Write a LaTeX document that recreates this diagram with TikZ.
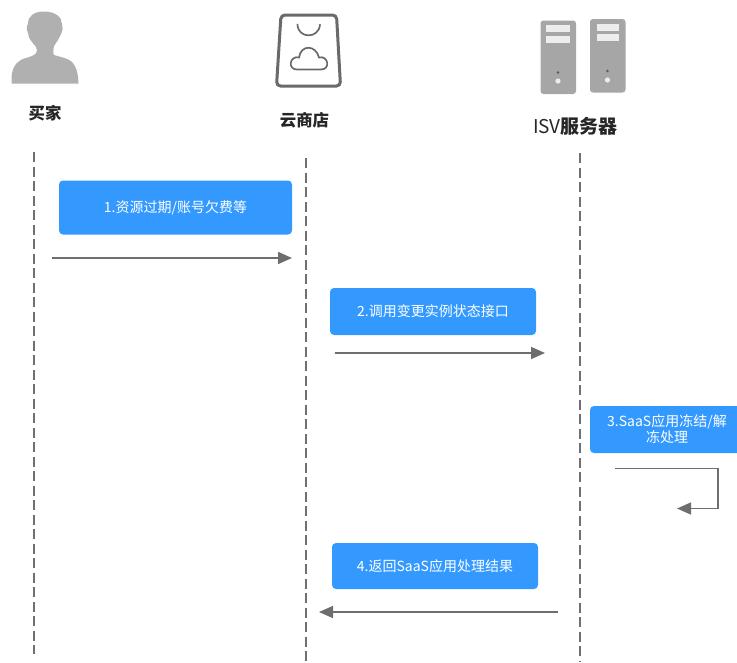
\documentclass[tikz,border=0pt]{standalone}
\usepackage{fontspec}
\setmainfont{Noto Sans CJK SC}
\definecolor{boxblue}{HTML}{3399FF}
\definecolor{arrowgrey}{HTML}{6E6E6E}
\definecolor{lifegrey}{HTML}{707070}
\definecolor{persongrey}{HTML}{B0B0B0}
\definecolor{servergrey}{HTML}{A6A6A6}
\definecolor{serverlight}{HTML}{EDEDED}
\definecolor{bagline}{HTML}{6A6A6A}
\definecolor{titlecol}{HTML}{262626}
\usetikzlibrary{arrows.meta}
\tikzset{
  stepbox/.style={fill=boxblue,rounded corners=4pt,text=white,align=center,inner sep=0pt,font=\fontsize{14}{15.5}\selectfont},
  lifeline/.style={draw=lifegrey,line width=1.1pt,dash pattern=on 10pt off 4.5pt},
  msg/.style={draw=arrowgrey,line width=1.5pt,-{Triangle[length=14pt,width=12pt]}},
  title/.style={text=titlecol,inner sep=0pt,font=\fontsize{16.4}{18}\selectfont\bfseries},
}
\begin{document}
\begin{tikzpicture}[x=1pt,y=-1pt]
\useasboundingbox (0,0) rectangle (737,662);
% person
\fill[persongrey] (11.5,83.5) -- (11.5,76) .. controls (13,65) and (18,60) .. (26,58) .. controls (32,56) and (37,55) .. (37,50)
 .. controls (37,47) and (35,46) .. (32,42) .. controls (29,38) and (28,36) .. (28,33) .. controls (26,29) and (27,25) .. (28,24)
 .. controls (28,16) and (34,11.5) .. (44,11.5) .. controls (55,11.5) and (62,17) .. (62,24) .. controls (63,27) and (63,30) .. (61,34)
 .. controls (59,39) and (56,43) .. (54,46) .. controls (53,49) and (53,53) .. (54,55) .. controls (60,57) and (68,58) .. (72,62)
 .. controls (76,66) and (78,72) .. (78.5,83.5) -- cycle;
\node[title] (buyer) at (45,113) {买家};
% bag
\draw[bagline,line width=3pt,rounded corners=4pt] (281,15) -- (336.5,15) -- (340.5,86) -- (276.5,86) -- cycle;
\draw[bagline,line width=1.7pt,line cap=round] (297.5,24.5) .. controls (298,39) and (319,39) .. (320,24.5);
\draw[bagline,line width=1.7pt] (297,69.5) .. controls (287,69.5) and (290,55) .. (299,57.5) .. controls (301,44) and (316,45) .. (319,57.5) .. controls (328,55) and (331,69.5) .. (321,69.5) -- cycle;
\node[title] (store) at (304.5,120) {云商店};
% servers
\fill[servergrey,rounded corners=3pt] (540.5,20.5) rectangle (576,94);
\fill[servergrey,rounded corners=3pt] (590,19) rectangle (625.5,92.5);
\fill[serverlight] (546,25) rectangle (570,32);
\fill[serverlight] (546,36) rectangle (570,42.5);
\fill[serverlight] (596.5,24) rectangle (619,30.5);
\fill[serverlight] (596.5,34) rectangle (619,40.5);
\fill[black!65] (558,72.5) circle (1.4pt);
\fill[black!65] (607.5,71) circle (1.4pt);
\fill[serverlight] (558,81) circle (2.6pt);
\fill[serverlight] (607.5,80) circle (2.6pt);
\node[text=titlecol,inner sep=0pt,font=\fontsize{19}{21}\selectfont] (isv) at (575.5,126) {ISV{\bfseries 服务器}};
% lifelines
\coordinate (l1a) at (34,152); \coordinate (l1b) at (34,654);
\coordinate (l2a) at (306,158); \coordinate (l2b) at (306,662);
\coordinate (l3a) at (580,153); \coordinate (l3b) at (580,662);
\draw[lifeline] (l1a) -- (l1b);
\draw[lifeline] (l2a) -- (l2b);
\draw[lifeline] (l3a) -- (l3b);
% boxes
\node[stepbox,minimum width=233pt,minimum height=54pt] (s1) at (175.5,207.5) {1.资源过期/账号欠费等};
\node[stepbox,minimum width=206pt,minimum height=47pt] (s2) at (433,311.5) {2.调用变更实例状态接口};
\fill[boxblue,rounded corners=4pt] (590,406) rectangle (745,453);
\node[text=white,align=center,inner sep=0pt,font=\fontsize{14}{15.5}\selectfont] (s3) at (667,429) {3.SaaS应用冻结/解\\冻处理};
\node[stepbox,minimum width=206pt,minimum height=46pt] (s4) at (435,566) {4.返回SaaS应用处理结果};
% arrows
\coordinate (a1a) at (52,258); \coordinate (a1b) at (292,258);
\coordinate (a2a) at (334.5,353); \coordinate (a2b) at (545,353);
\coordinate (a3a) at (615,468.5); \coordinate (a3c) at (718,508.5); \coordinate (a3b) at (677,508.5);
\coordinate (a4a) at (558,612); \coordinate (a4b) at (319,612);
\draw[msg] (a1a) -- (a1b);
\draw[msg] (a2a) -- (a2b);
\draw[msg] (a3a) -| (a3c) -- (a3b);
\draw[msg] (a4a) -- (a4b);
\end{tikzpicture}
\end{document}
